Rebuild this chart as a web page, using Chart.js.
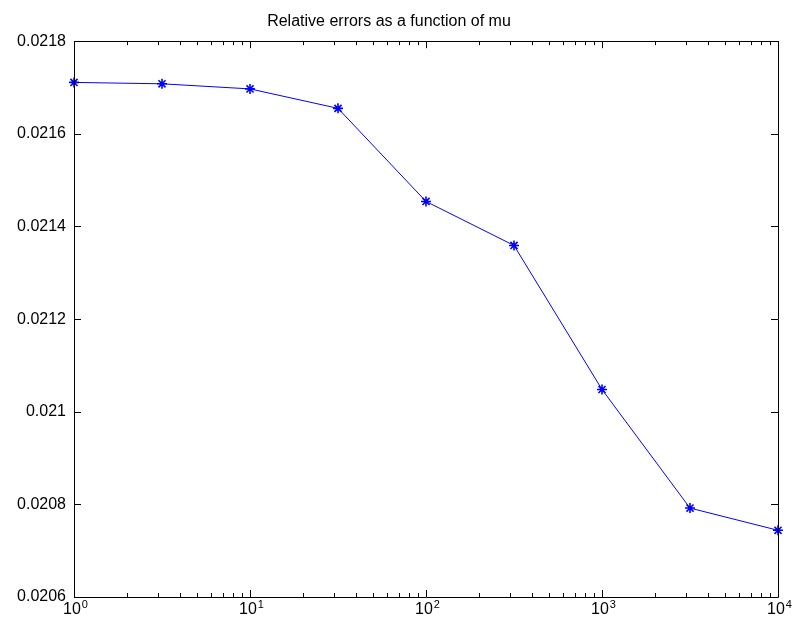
<!DOCTYPE html>
<html>
<head>
<meta charset="utf-8">
<script src="https://cdn.jsdelivr.net/npm/chart.js@4"></script>
<style>
  html, body { margin: 0; padding: 0; background: #fff; }
  #wrap { width: 792px; height: 622px; }
</style>
</head>
<body>
<div id="wrap"><canvas id="myChart" width="792" height="622"></canvas></div>
<script>
//Values of mu (x axis, log scale) and the relative errors
const muValues = [1, 3.1623, 10, 31.623, 100, 316.23, 1000, 3162.3, 10000];
const relErrors = [0.021711, 0.021708, 0.021697, 0.021655, 0.021454, 0.021359, 0.021048, 0.020792, 0.020744];

//Tick values and their labels
const xTickValues = [1, 10, 100, 1000, 10000];
const xTickBase = '10';
const xTickExponents = ['0', '1', '2', '3', '4'];
const yTickValues = [0.0206, 0.0208, 0.021, 0.0212, 0.0214, 0.0216, 0.0218];
const yTickLabels = ['0.0206', '0.0208', '0.021', '0.0212', '0.0214', '0.0216', '0.0218'];

const FONT = "'Liberation Sans', Arial, Helvetica, sans-serif";

//Minor ticks of the log axis (2..9 of every decade)
let xMinorTicks = [];
for (let d = 1; d < 10000; d *= 10) {
  for (let m = 2; m <= 9; m++) xMinorTicks.push(m * d);
}

//Plugin that draws the box, the inward MATLAB style ticks and the 10^n labels
const boxTicks = {
  id: 'boxTicks',
  afterDraw(chart) {
    const ctx = chart.ctx;
    const a = chart.chartArea;
    const xs = chart.scales.x;
    const ys = chart.scales.y;
    ctx.save();
    ctx.strokeStyle = '#000';
    ctx.lineWidth = 1;
    ctx.beginPath();
    ctx.rect(Math.round(a.left) + 0.5, Math.round(a.top) + 0.5,
      Math.round(a.right - a.left), Math.round(a.bottom - a.top));
    ctx.stroke();
    ctx.beginPath();
    const vTick = (v, len) => {
      const px = Math.round(xs.getPixelForValue(v)) + 0.5;
      ctx.moveTo(px, a.bottom); ctx.lineTo(px, a.bottom - len);
      ctx.moveTo(px, a.top); ctx.lineTo(px, a.top + len);
    };
    xTickValues.forEach(v => vTick(v, 7));
    xMinorTicks.forEach(v => vTick(v, 4));
    yTickValues.forEach(v => {
      const py = Math.round(ys.getPixelForValue(v)) + 0.5;
      ctx.moveTo(a.left, py); ctx.lineTo(a.left + 7, py);
      ctx.moveTo(a.right, py); ctx.lineTo(a.right - 7, py);
    });
    ctx.stroke();

    //x labels: base with a raised exponent
    ctx.fillStyle = '#000';
    ctx.textBaseline = 'alphabetic';
    ctx.textAlign = 'left';
    xTickValues.forEach((v, i) => {
      const px = xs.getPixelForValue(v);
      ctx.font = '16px ' + FONT;
      const wb = ctx.measureText(xTickBase).width;
      ctx.font = '11px ' + FONT;
      const we = ctx.measureText(xTickExponents[i]).width;
      const x0 = px - (wb + we) / 2 + 1;
      ctx.font = '16px ' + FONT;
      ctx.fillText(xTickBase, x0, a.bottom + 17);
      ctx.font = '11px ' + FONT;
      ctx.fillText(xTickExponents[i], x0 + wb + 1, a.bottom + 11);
    });
    ctx.restore();
  }
};

const ctx = document.getElementById('myChart').getContext('2d');
new Chart(ctx, {
  type: 'line',
  data: {
    datasets: [{
      data: muValues.map((m, i) => ({ x: m, y: relErrors[i] })),
      borderColor: '#0000ff',
      backgroundColor: '#0000ff',
      borderWidth: 1,
      pointStyle: 'star',
      pointRadius: 5,
      pointBorderWidth: 1.6,
      pointBorderColor: '#0000ff',
      tension: 0,
      fill: false,
      clip: false
    }]
  },
  options: {
    responsive: false,
    animation: false,
    layout: { padding: { left: 0, right: 14, top: 0, bottom: 0 } },
    plugins: {
      legend: { display: false },
      tooltip: { enabled: false },
      title: {
        display: true,
        text: 'Relative errors as a function of mu',
        color: '#000',
        font: { family: FONT, size: 16, weight: 'normal' },
        padding: { top: 12, bottom: 10 }
      }
    },
    scales: {
      x: {
        type: 'logarithmic',
        min: 1,
        max: 10000,
        grid: { display: false, drawTicks: false },
        border: { display: false },
        afterBuildTicks: scale => { scale.ticks = xTickValues.map(v => ({ value: v })); },
        afterFit: scale => { scale.height = 25; },
        ticks: { display: false }
      },
      y: {
        type: 'linear',
        min: 0.0206,
        max: 0.0218,
        grid: { display: false, drawTicks: false },
        border: { display: false },
        afterBuildTicks: scale => { scale.ticks = yTickValues.map(v => ({ value: v })); },
        afterFit: scale => { scale.width = 74; },
        ticks: {
          padding: 8,
          color: '#000',
          font: { family: FONT, size: 16 },
          callback: (v) => yTickLabels[yTickValues.findIndex(t => Math.abs(t - v) < 1e-9)]
        }
      }
    }
  },
  plugins: [boxTicks]
});
</script>
</body>
</html>
